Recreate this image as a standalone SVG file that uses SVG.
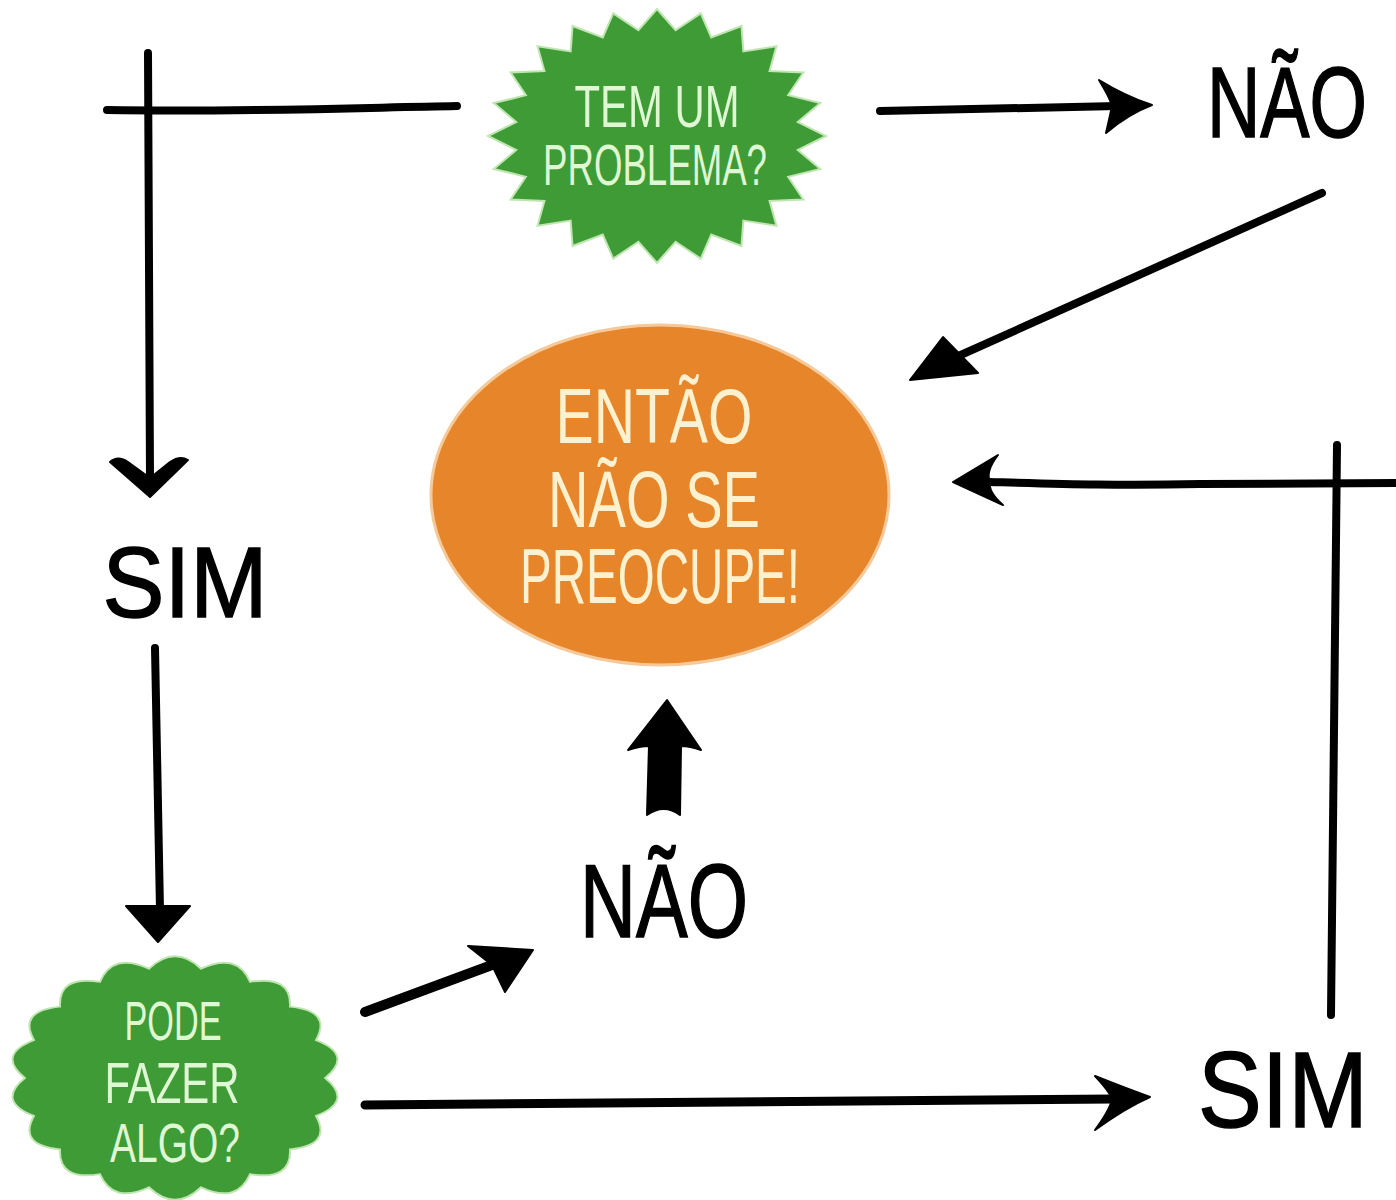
<svg xmlns="http://www.w3.org/2000/svg" width="1396" height="1200" viewBox="0 0 1396 1200">
<style>
.bg{fill:#ffffff}
.green{fill:#3e9b36;stroke:#bfe6b0;stroke-width:2}
.orange{fill:#e6852a;stroke:#f6c99a;stroke-width:3}
.gtxt{font-family:"Liberation Sans Narrow","Liberation Sans",Arial,sans-serif;fill:#dff7d2;text-anchor:middle}
.otxt{font-family:"Liberation Sans Narrow","Liberation Sans",Arial,sans-serif;fill:#fdf1cf;text-anchor:middle}
.btxt{font-family:"Liberation Sans","DejaVu Sans",Arial,sans-serif;fill:#000;stroke:#000;stroke-width:1.5;text-anchor:middle}
.ln{fill:none;stroke:#000;stroke-width:8;stroke-linecap:round;stroke-linejoin:round}
.hd{fill:#000;stroke:#000;stroke-width:2;stroke-linejoin:round}
</style>
<rect class="bg" x="0" y="0" width="1396" height="1200"/>

<g id="connectors">
  <path class="ln" d="M457,106 C350,108 250,112 107,110"/>
  <path class="ln" d="M148,53 L150,478"/>
  <path class="hd" d="M150,497 L110,462 Q118,455 128,462 L150,478 L170,462 Q180,455 188,460 Z"/>
  <path class="ln" d="M880,111 L1118,106"/>
  <path class="hd" d="M1152,105 Q1125,96 1099,80 Q1110,98 1112,106 Q1110,116 1106,133 Q1128,114 1152,105 Z"/>
  <path class="ln" d="M1322,193 L945,362"/>
  <path class="hd" d="M910,380 L943,337 L978,373 Z"/>
  <path class="ln" d="M1337,445 L1331,1015"/>
  <path class="ln" d="M1396,483 L1200,484 C1120,486 1060,484 990,482"/>
  <path class="hd" d="M953,482 L998,455 Q985,472 990,482 Q988,492 1003,505 Z"/>
  <path class="ln" d="M155,648 L160,910"/>
  <path class="hd" d="M158,942 L126,906 L190,906 Z"/>
  <path class="ln" style="stroke-width:10" d="M365,1012 L500,962"/>
  <path class="hd" d="M533,950 L468,946 L492,965 L505,992 Z"/>
  <path class="hd" d="M667,700 L701,750 Q690,746 681,746 L680,815 Q664,803 647,815 L649,746 Q640,746 628,750 Z"/>
  <path class="ln" style="stroke-width:9" d="M365,1105 L1115,1099"/>
  <path class="hd" d="M1150,1097 Q1125,1088 1095,1076 Q1110,1092 1112,1099 Q1110,1110 1095,1130 Q1125,1108 1150,1097 Z"/>
</g>

<g id="node-problema">
  <polygon class="green" vector-effect="non-scaling-stroke" transform="translate(657,136) scale(1.69,1.27)" points="100,0 83.3,11 96.6,25.9 77.6,32.1 86.6,50 66.6,51.1 70.7,70.7 51.1,66.6 50,86.6 32.1,77.6 25.9,96.6 11,83.3 0,100 -11,83.3 -25.9,96.6 -32.1,77.6 -50,86.6 -51.1,66.6 -70.7,70.7 -66.6,51.1 -86.6,50 -77.6,32.1 -96.6,25.9 -83.3,11 -100,0 -83.3,-11 -96.6,-25.9 -77.6,-32.1 -86.6,-50 -66.6,-51.1 -70.7,-70.7 -51.1,-66.6 -50,-86.6 -32.1,-77.6 -25.9,-96.6 -11,-83.3 0,-100 11,-83.3 25.9,-96.6 32.1,-77.6 50,-86.6 51.1,-66.6 70.7,-70.7 66.6,-51.1 86.6,-50 77.6,-32.1 96.6,-25.9 83.3,-11"/>
  <text class="gtxt" x="657" y="127" font-size="60" textLength="165" lengthAdjust="spacingAndGlyphs">TEM UM</text>
  <text class="gtxt" x="655" y="185" font-size="58" textLength="224" lengthAdjust="spacingAndGlyphs">PROBLEMA?</text>
</g>

<g id="node-nao-top">
  <text class="btxt" x="1287" y="137" font-size="100" textLength="160" lengthAdjust="spacingAndGlyphs">NÃO</text>
</g>

<g id="node-sim-left">
  <text class="btxt" x="185" y="617" font-size="100" textLength="165" lengthAdjust="spacingAndGlyphs">SIM</text>
</g>

<g id="node-preocupe">
  <ellipse class="orange" cx="660" cy="495" rx="229" ry="170"/>
  <text class="otxt" x="654" y="443" font-size="78" textLength="197" lengthAdjust="spacingAndGlyphs">ENTÃO</text>
  <text class="otxt" x="654" y="527" font-size="80" textLength="212" lengthAdjust="spacingAndGlyphs">NÃO SE</text>
  <text class="otxt" x="660" y="603" font-size="78" textLength="280" lengthAdjust="spacingAndGlyphs">PREOCUPE!</text>
</g>

<g id="node-nao-mid">
  <text class="btxt" x="664" y="937" font-size="104" textLength="168" lengthAdjust="spacingAndGlyphs">NÃO</text>
</g>

<g id="node-pode">
  <path class="green" vector-effect="non-scaling-stroke" transform="translate(175,1078) scale(1.65,1.22)" d="M91,0 Q108.3,19.1 85.5,31.1 Q95.3,55 69.7,58.5 Q70.7,84.3 45.5,78.8 Q37.6,103.4 15.8,89.6 Q0,110 -15.8,89.6 Q-37.6,103.4 -45.5,78.8 Q-70.7,84.3 -69.7,58.5 Q-95.3,55 -85.5,31.1 Q-108.3,19.1 -91,0 Q-108.3,-19.1 -85.5,-31.1 Q-95.3,-55 -69.7,-58.5 Q-70.7,-84.3 -45.5,-78.8 Q-37.6,-103.4 -15.8,-89.6 Q0,-110 15.8,-89.6 Q37.6,-103.4 45.5,-78.8 Q70.7,-84.3 69.7,-58.5 Q95.3,-55 85.5,-31.1 Q108.3,-19.1 91,0 Z"/>
  <text class="gtxt" x="173" y="1040" font-size="56" textLength="97" lengthAdjust="spacingAndGlyphs">PODE</text>
  <text class="gtxt" x="172" y="1103" font-size="58" textLength="135" lengthAdjust="spacingAndGlyphs">FAZER</text>
  <text class="gtxt" x="175" y="1162" font-size="56" textLength="130" lengthAdjust="spacingAndGlyphs">ALGO?</text>
</g>

<g id="node-sim-right">
  <text class="btxt" x="1283" y="1127" font-size="107" textLength="170" lengthAdjust="spacingAndGlyphs">SIM</text>
</g>
</svg>
